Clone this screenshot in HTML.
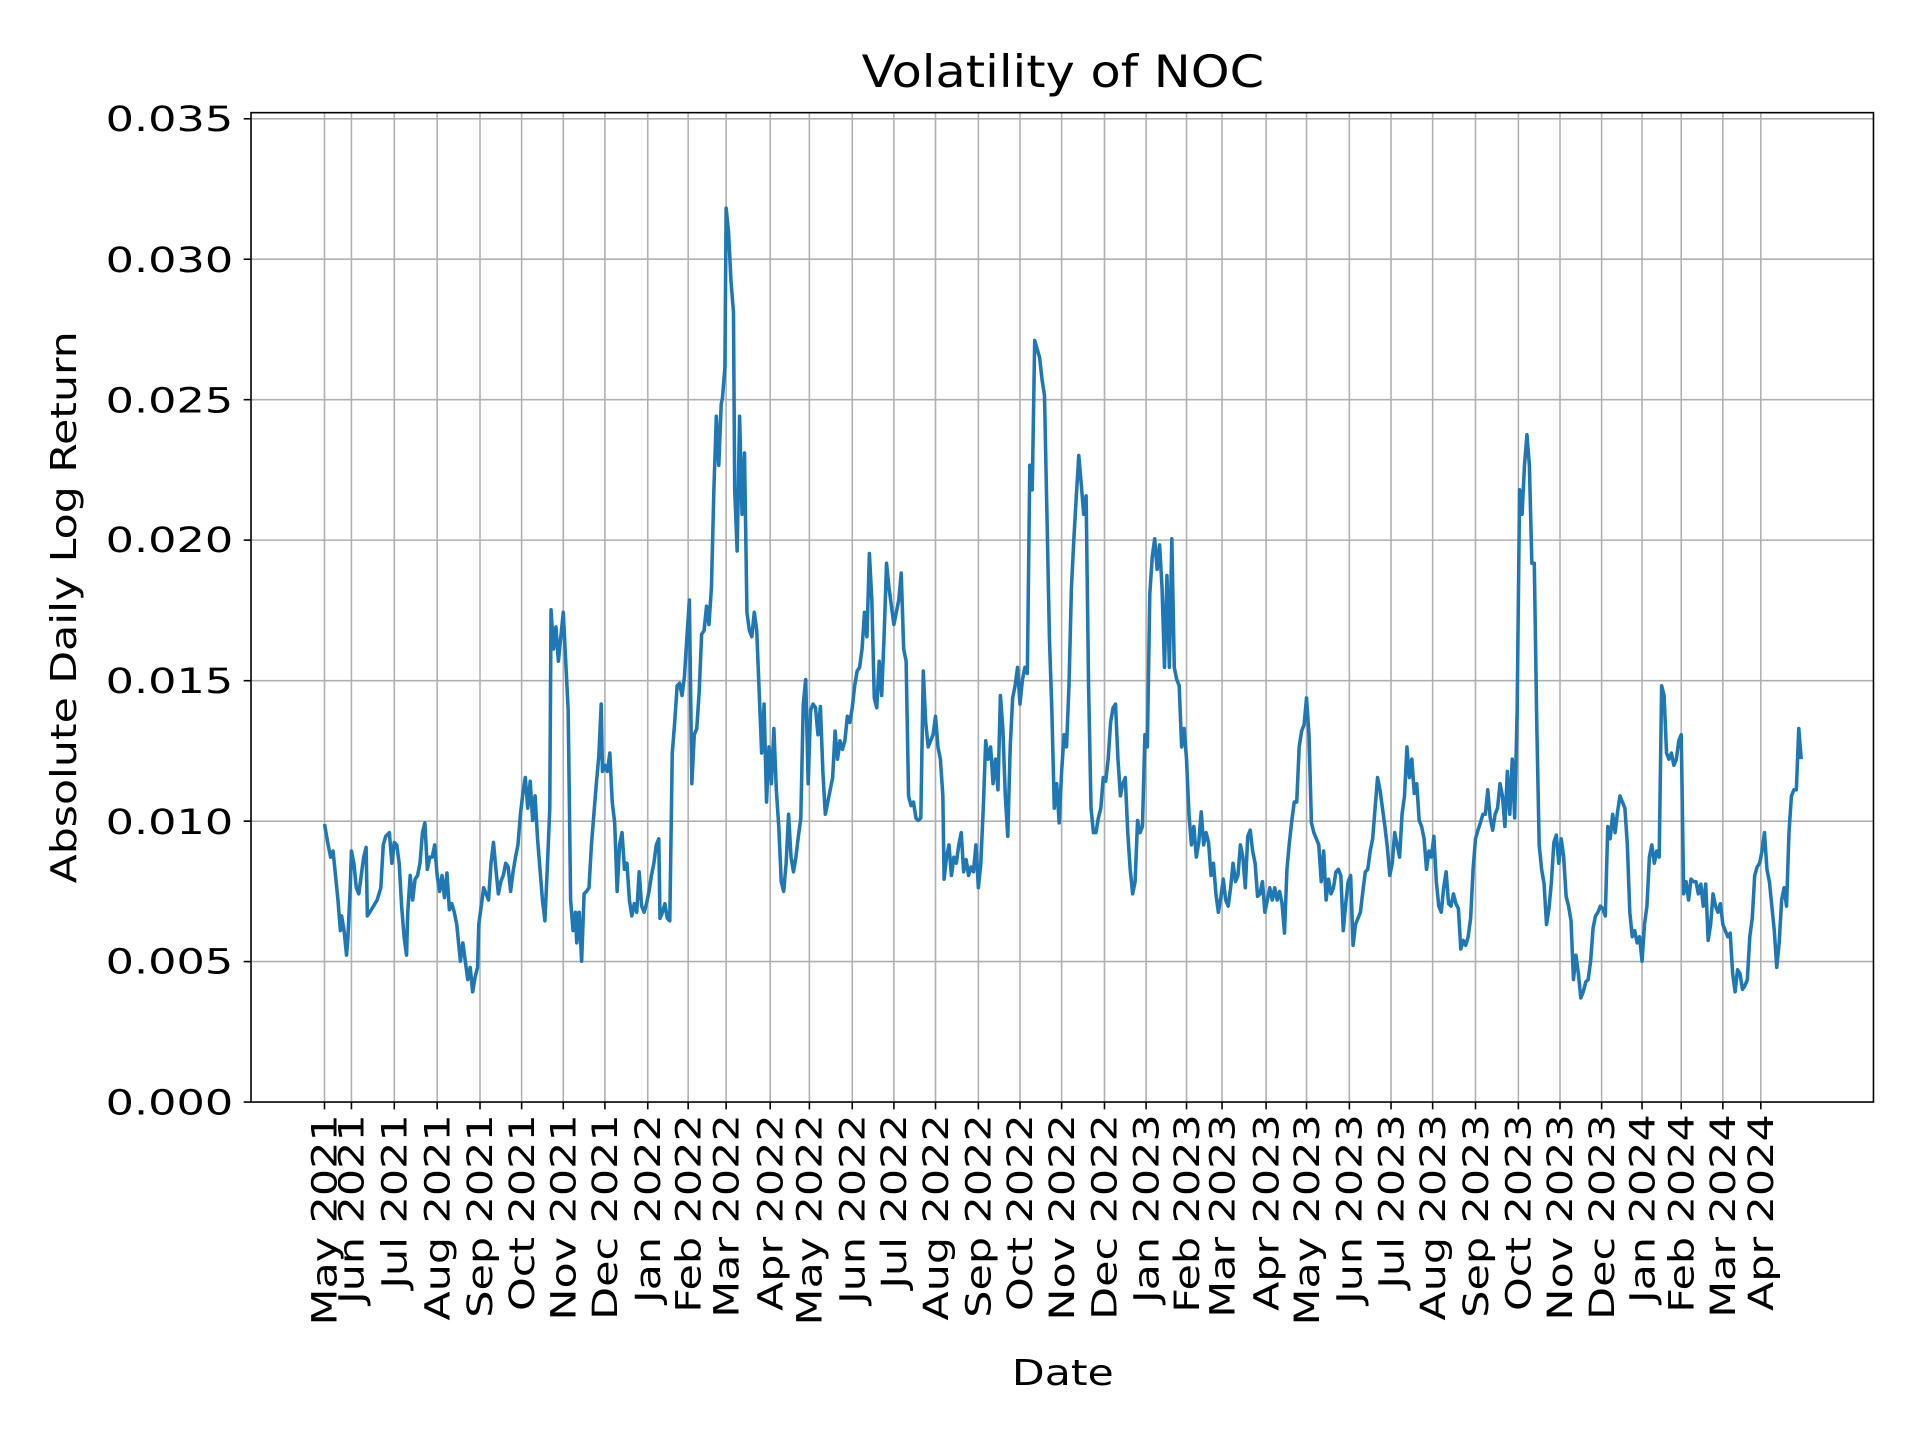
<!DOCTYPE html>
<html><head><meta charset="utf-8"><style>html,body{margin:0;padding:0;background:#fff}svg{display:block}</style></head>
<body>
<svg width="1920" height="1440" viewBox="0 0 1568 1176" preserveAspectRatio="none" xmlns="http://www.w3.org/2000/svg" font-family="DejaVu Sans, Liberation Sans, sans-serif">
<rect width="1568" height="1176" fill="#fff"/>
<g stroke="#b0b0b0" stroke-width="1.3" id="grid">
<line x1="205" x2="1530" y1="785.3" y2="785.3"/><line x1="205" x2="1530" y1="670.6" y2="670.6"/><line x1="205" x2="1530" y1="555.9" y2="555.9"/><line x1="205" x2="1530" y1="441.1" y2="441.1"/><line x1="205" x2="1530" y1="326.4" y2="326.4"/><line x1="205" x2="1530" y1="211.7" y2="211.7"/><line x1="205" x2="1530" y1="97" y2="97"/>
</g>
<g id="vg" stroke="#b0b0b0" stroke-width="1.3"></g>
<g id="xt" stroke="#000" stroke-width="1.3"></g>
<g id="xl" font-size="28" fill="#000"></g>
<g stroke="#000" stroke-width="1.3">
<line x1="199" x2="205" y1="900" y2="900"/><line x1="199" x2="205" y1="785.3" y2="785.3"/><line x1="199" x2="205" y1="670.6" y2="670.6"/><line x1="199" x2="205" y1="555.9" y2="555.9"/><line x1="199" x2="205" y1="441.1" y2="441.1"/><line x1="199" x2="205" y1="326.4" y2="326.4"/><line x1="199" x2="205" y1="211.7" y2="211.7"/><line x1="199" x2="205" y1="97" y2="97"/>
</g>
<g font-size="28" text-anchor="end" fill="#000" transform="scale(1.3,1)">
<text x="146.5" y="910">0.000</text><text x="146.5" y="795">0.005</text><text x="146.5" y="681">0.010</text><text x="146.5" y="566">0.015</text><text x="146.5" y="451">0.020</text><text x="146.5" y="337">0.025</text><text x="146.5" y="222">0.030</text><text x="146.5" y="107">0.035</text>
</g>
<polyline fill="none" stroke="#1f77b4" stroke-width="2.9" stroke-linejoin="round" points="265,673 268,690 270,700 272,695 274,715 276,735 278,760 279,748 281,760 283,780 284,768 286,725 287,695 289,705 291,725 293,730 295,715 297,700 299,692 300,748 302,745 305,740 308,735 311,725 313,690 315,683 318,680 320,705 322,688 324,690 326,705 328,740 330,765 332,780 333,745 335,715 337,735 339,718 341,715 343,705 345,680 347,672 349,710 351,700 353,700 355,690 357,715 359,728 361,715 363,733 365,713 367,743 369,738 371,745 373,755 375,775 376,785 378,770 380,785 382,800 384,790 386,810 388,798 390,790 391,755 393,740 395,725 397,730 399,735 401,705 403,688 405,710 407,730 409,720 411,715 413,705 415,708 417,728 419,712 421,700 423,690 425,665 427,648 429,635 431,660 433,638 435,670 437,650 439,685 441,710 443,735 445,752 447,708 449,660 450,498 452,530 454,512 456,540 458,520 460,500 462,540 464,580 466,735 468,760 470,745 471,770 473,745 475,785 477,730 479,728 481,725 483,690 485,665 487,640 489,618 491,575 492,630 494,625 496,630 498,615 500,655 502,672 504,728 506,690 508,680 510,710 512,705 514,735 516,748 518,738 520,745 522,712 524,740 526,745 528,738 530,728 532,715 534,705 536,690 538,685 539,750 541,745 543,738 545,750 547,752 549,615 551,590 553,560 555,558 557,568 559,552 561,520 563,490 565,640 567,600 569,595 571,565 573,518 575,515 577,495 579,510 581,480 583,400 585,340 587,380 589,330 590,325 592,300 593,170 595,190 597,230 599,255 600,400 602,450 604,340 606,420 608,370 610,500 612,515 614,520 616,500 618,515 620,565 622,615 624,575 626,655 628,610 630,640 632,595 634,645 636,675 638,720 640,728 642,705 644,665 646,700 648,712 650,700 652,683 654,668 656,575 658,555 660,640 662,580 664,575 666,578 668,600 670,577 672,630 674,665 676,655 678,645 680,635 682,597 684,620 686,605 688,612 690,605 692,585 694,590 696,578 698,560 700,548 702,545 704,530 706,500 708,520 710,452 712,490 714,570 716,578 718,540 720,568 722,520 724,460 726,480 728,495 730,510 732,500 734,490 736,468 738,530 740,540 742,650 744,658 746,655 748,668 750,670 752,668 754,548 756,590 758,610 760,605 762,600 764,585 766,610 768,620 770,650 771,718 773,700 775,690 777,715 779,700 781,705 783,690 785,680 787,712 789,702 791,715 793,708 795,712 797,690 799,725 801,705 803,660 805,605 807,620 809,610 811,640 813,620 815,645 817,568 819,595 821,650 823,683 825,610 827,570 829,560 831,545 833,575 835,555 837,545 839,550 841,380 843,400 845,278 847,285 849,292 851,310 853,323 855,420 857,520 859,580 861,660 863,640 865,672 867,630 869,600 871,610 873,560 875,480 877,440 879,405 881,372 883,395 885,420 887,405 889,560 891,660 893,680 895,680 897,668 899,660 901,635 903,638 905,620 907,590 909,578 911,575 913,620 915,650 917,640 919,635 921,680 923,710 925,730 927,720 929,670 931,680 933,675 935,600 937,610 939,485 941,455 943,440 945,465 947,445 949,480 951,545 953,470 955,545 957,440 959,545 961,555 963,560 965,610 967,595 969,620 971,665 973,690 975,675 977,700 979,688 981,663 983,690 985,680 987,688 989,715 991,705 993,730 995,745 997,733 999,718 1001,735 1003,740 1005,725 1007,705 1009,720 1011,715 1013,690 1015,700 1017,725 1019,683 1021,678 1023,695 1025,705 1027,732 1029,730 1031,720 1033,745 1035,735 1037,725 1039,735 1041,725 1043,735 1045,728 1047,738 1049,762 1051,710 1053,688 1055,670 1057,655 1059,655 1061,610 1063,597 1065,592 1067,570 1069,600 1071,672 1073,680 1075,685 1077,690 1079,720 1081,695 1083,735 1085,718 1087,730 1089,725 1091,712 1093,710 1095,715 1097,760 1099,738 1101,720 1103,715 1105,772 1107,755 1109,750 1111,745 1113,728 1115,712 1117,710 1119,695 1121,685 1123,660 1125,635 1127,645 1129,660 1131,675 1133,692 1135,715 1137,705 1139,680 1141,690 1143,700 1145,665 1147,650 1149,610 1151,635 1153,620 1155,648 1157,640 1159,670 1161,675 1163,685 1165,710 1167,695 1169,700 1171,683 1173,720 1175,740 1177,745 1179,725 1181,712 1183,738 1185,740 1187,730 1189,738 1191,742 1193,775 1195,768 1197,772 1199,765 1201,750 1203,710 1205,685 1207,678 1209,672 1211,665 1213,665 1215,645 1217,668 1219,678 1221,665 1223,660 1225,640 1227,650 1229,675 1231,630 1233,665 1235,620 1237,668 1239,580 1241,400 1243,420 1245,380 1247,355 1249,380 1251,460 1253,460 1255,590 1257,690 1259,710 1261,722 1263,755 1265,742 1267,720 1269,688 1271,682 1273,705 1275,685 1277,700 1279,732 1281,740 1283,752 1285,800 1287,780 1289,795 1291,815 1293,810 1295,802 1297,800 1299,785 1301,758 1303,748 1305,745 1307,740 1309,742 1311,748 1313,675 1315,685 1317,665 1319,680 1321,663 1323,650 1325,655 1327,660 1329,690 1331,745 1333,765 1335,760 1337,770 1339,765 1341,785 1343,755 1345,740 1347,700 1349,690 1351,705 1353,695 1355,700 1357,560 1359,568 1361,615 1363,620 1365,615 1367,625 1369,620 1371,605 1373,600 1375,730 1377,720 1379,735 1381,718 1383,720 1385,720 1387,730 1389,722 1391,740 1393,722 1395,768 1397,755 1399,730 1401,740 1403,745 1405,738 1407,755 1409,760 1411,765 1413,762 1415,795 1417,810 1419,792 1421,795 1423,808 1425,805 1427,800 1429,765 1431,750 1433,715 1435,708 1437,705 1439,695 1441,680 1443,710 1445,720 1447,740 1449,760 1451,790 1453,770 1455,735 1457,725 1459,740 1461,680 1463,650 1465,645 1467,645 1469,595 1471,620"/>
<rect x="205" y="92" width="1325" height="808" fill="none" stroke="#000" stroke-width="1.3"/>
<text transform="translate(868,71) scale(1.12,1)" font-size="36" text-anchor="middle">Volatility of NOC</text>
<text transform="translate(868,1131) scale(1.2,1)" font-size="29" text-anchor="middle">Date</text>
<text transform="translate(62,496) rotate(-90) scale(1.2,1)" font-size="29" text-anchor="middle">Absolute Daily Log Return</text>
<script>
var xs=[265,287,322,357,392,426,460,494,529,562,593,629,661,696,730,764,799,833,867,902,936,969,998,1034,1067,1102,1136,1170,1205,1240,1274,1308,1341,1373,1407,1438];
var ls=["May 2021","Jun 2021","Jul 2021","Aug 2021","Sep 2021","Oct 2021","Nov 2021","Dec 2021","Jan 2022","Feb 2022","Mar 2022","Apr 2022","May 2022","Jun 2022","Jul 2022","Aug 2022","Sep 2022","Oct 2022","Nov 2022","Dec 2022","Jan 2023","Feb 2023","Mar 2023","Apr 2023","May 2023","Jun 2023","Jul 2023","Aug 2023","Sep 2023","Oct 2023","Nov 2023","Dec 2023","Jan 2024","Feb 2024","Mar 2024","Apr 2024"];
var ns="http://www.w3.org/2000/svg",vg=document.getElementById('vg'),xt=document.getElementById('xt'),xl=document.getElementById('xl');
xs.forEach(function(x,i){
var l=document.createElementNS(ns,'line');l.setAttribute('x1',x);l.setAttribute('x2',x);l.setAttribute('y1',92);l.setAttribute('y2',900);vg.appendChild(l);
var t=document.createElementNS(ns,'line');t.setAttribute('x1',x);t.setAttribute('x2',x);t.setAttribute('y1',900);t.setAttribute('y2',906);xt.appendChild(t);
var tx=document.createElementNS(ns,'text');tx.setAttribute('transform','translate('+(x+10)+',910) rotate(-90) scale(1.25,1)');tx.setAttribute('text-anchor','end');tx.textContent=ls[i];xl.appendChild(tx);
});
</script>
</svg>
</body></html>
